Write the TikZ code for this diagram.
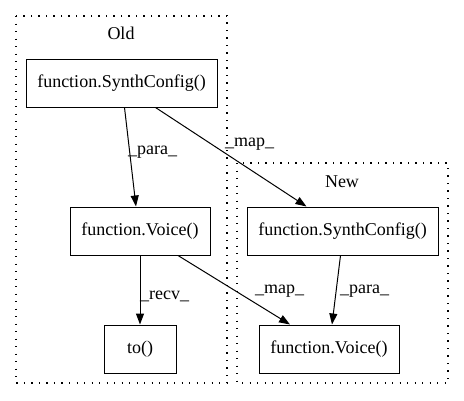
\documentclass[tikz,border=0pt]{standalone}
\usepackage{fontspec}
\setmainfont{Liberation Serif}
\usetikzlibrary{arrows.meta}

\begin{document}
\begin{tikzpicture}[x=1pt,y=-1pt,
  box/.style={draw=black, line width=1pt, minimum height=48pt, inner sep=0pt, font=\fontsize{18pt}{20pt}\selectfont},
  lbl/.style={inner sep=0pt, anchor=west, font=\fontsize{18pt}{20pt}\selectfont},
  cluster/.style={draw=black, line width=1.2pt, dash pattern=on 1.4pt off 6.1pt},
  edge/.style={draw=black, line width=1pt, -{Triangle[length=11pt,width=8pt]}}]
\useasboundingbox (0,0) rectangle (464,400);
% clusters
\draw[cluster] (16,16) rectangle (227,383);
\draw[cluster] (237,163) rectangle (448,383);
\node[lbl, anchor=center] (oldtitle) at (121,33) {Old};
\node[lbl, anchor=center] (newtitle) at (342,182) {New};
% old
\node[box, minimum width=191pt] (osc) at (121.5,83) {function.SynthConfig()};
\node[box, minimum width=140pt] (ov) at (140,231) {function.Voice()};
\node[box, minimum width=72pt] (oto) at (140,349) {to()};
% new
\node[box, minimum width=191pt] (nsc) at (342.5,231) {function.SynthConfig()};
\node[box, minimum width=140pt] (nv) at (329,349) {function.Voice()};
% edges
\draw[edge] ([xshift=3pt]osc.south) -- ([xshift=-4pt]ov.north);
\draw[edge] ([xshift=34pt]osc.south) -- ([xshift=-36pt]nsc.north);
\draw[edge] (ov.south) -- (oto.north);
\draw[edge] ([xshift=38pt]ov.south) -- ([xshift=-39pt]nv.north);
\draw[edge] ([xshift=-2pt]nsc.south) -- ([xshift=3pt]nv.north);
% edge labels
\node[lbl] (l1) at (128,152) {\_para\_};
\node[lbl] (l2) at (225,144) {\_map\_};
\node[lbl] (l3) at (140,296) {\_recv\_};
\node[lbl] (l4) at (255,291) {\_map\_};
\node[lbl] (l5) at (340,291) {\_para\_};
\end{tikzpicture}
\end{document}
